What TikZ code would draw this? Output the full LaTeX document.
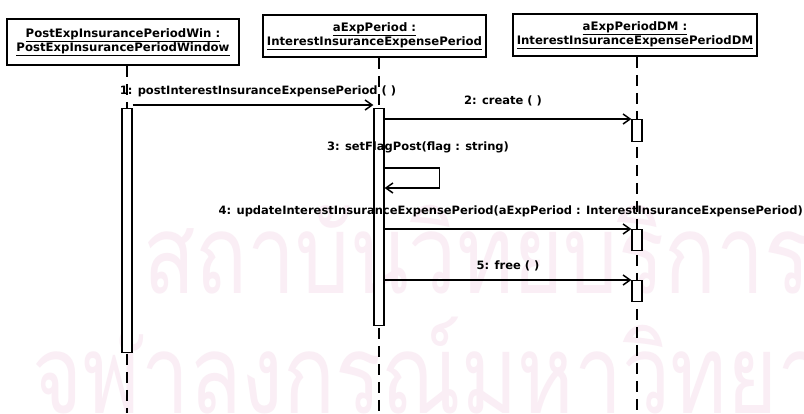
\documentclass[tikz,border=0pt]{standalone}
\usepackage{fontspec}
\setmainfont{DejaVu Sans}
\newfontfamily\thaifont[Script=Thai]{Loma}
\usetikzlibrary{arrows.meta}
\definecolor{wm}{RGB}{250,238,245}
\begin{document}
\begin{tikzpicture}[x=1pt,y=-1pt,
  objbox/.style={draw, line width=1.7pt, inner sep=2pt, align=center,
    font=\fontsize{11.7}{14}\selectfont\bfseries},
  actbox/.style={draw, fill=white, line width=1.3pt, minimum width=10pt,
    inner sep=0pt, anchor=north},
  life/.style={line width=1.3pt, dash pattern=on 11pt off 7pt},
  msg/.style={line width=1.5pt,
    -{Straight Barb[length=7pt,width=10pt,line width=1.5pt]}},
  lbl/.style={font=\fontsize{11.5}{13}\selectfont\bfseries, inner sep=0pt},
  wmtext/.style={text=wm, inner sep=0pt, anchor=base west,
    font=\thaifont\fontsize{110}{110}\selectfont},
]
\useasboundingbox (0,0) rectangle (804,413);
\fill[white] (0,0) rectangle (804,413);
\begin{scope}
  \clip (0,0) rectangle (804,413);
  \node[wmtext] (w1) at (143,293) {\scalebox{0.78}[1]{สถาบันวิทยบริการ}};
  \node[wmtext] (w2) at (32,413) {\scalebox{0.78}[1]{จุฬาลงกรณ์มหาวิทยาลัย}};
\end{scope}

% object boxes
\node[objbox, minimum width=232pt, minimum height=46pt] (b1) at (123,42)
  {\underline{PostExpInsurancePeriodWin :}\\\underline{PostExpInsurancePeriodWindow}};
\node[objbox, minimum width=223pt, minimum height=42pt] (b2) at (374.5,36)
  {\underline{aExpPeriod :}\\\underline{InterestInsuranceExpensePeriod}};
\node[objbox, minimum width=244pt, minimum height=42pt] (b3) at (635,35)
  {\underline{aExpPeriodDM :}\\\underline{InterestInsuranceExpensePeriodDM}};

% lifeline ends
\coordinate (e1) at (127,413);
\coordinate (e2) at (379,413);
\coordinate (e3) at (637,413);
\draw[life] (e1 |- b1.south) -- (e1);
\draw[life] (e2 |- b2.south) -- (e2);
\draw[life] (e3 |- b3.south) -- (e3);

% activations
\node[actbox, minimum height=244pt] (a1) at (127,108) {};
\node[actbox, minimum height=217pt] (a2) at (379,108) {};
\node[actbox, minimum height=22pt] (a3) at (637,119) {};
\node[actbox, minimum height=21pt] (a4) at (637,229) {};
\node[actbox, minimum height=21pt] (a5) at (637,280) {};

% message levels
\coordinate (y1) at (0,105);
\coordinate (s1) at (0,168);
\coordinate (s2) at (0,188);

\draw[msg] (a1.east |- y1) -- (a2.west |- y1);
\draw[msg] (a2.east |- a3.north) -- (a3.north west);
\draw[msg] (a2.east |- s1) -- ++(55,0) -- ++(0,20) -- (a2.east |- s2);
\draw[msg] (a2.east |- a4.north) -- (a4.north west);
\draw[msg] (a2.east |- a5.north) -- (a5.north west);

% labels
\node[lbl] (l1) at (258,91) {1: postInterestInsuranceExpensePeriod ( )};
\node[lbl] (l2) at (503,101) {2: create ( )};
\node[lbl] (l3) at (418,147) {3: setFlagPost(flag : string)};
\node[lbl, anchor=east] (l4) at (803,211) {4: updateInterestInsuranceExpensePeriod(aExpPeriod : InterestInsuranceExpensePeriod)};
\node[lbl] (l5) at (508,266) {5: free ( )};
\end{tikzpicture}
\end{document}
